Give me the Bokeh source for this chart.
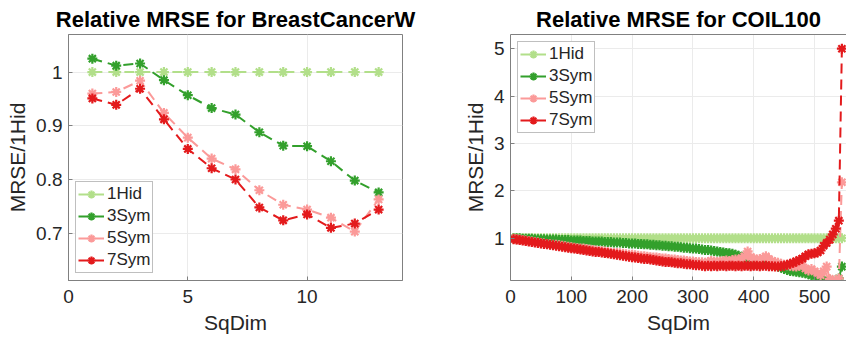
from bokeh.plotting import figure
from bokeh.layouts import row
from bokeh.models import FixedTicker, LinearAxis, Range1d
from bokeh.embed import file_html
from bokeh.resources import INLINE

# ---------------- data ----------------
series_names = ["1Hid", "3Sym", "5Sym", "7Sym"]
series_colors = ["#b2df8a", "#33a02c", "#fb9a99", "#e31a1c"]

# Breast Cancer Wisconsin
sqdim_bc = [1, 2, 3, 4, 5, 6, 7, 8, 9, 10, 11, 12, 13]
bc_1hid = [1.0, 1.0, 1.0, 1.0, 1.0, 1.0, 1.0, 1.0, 1.0, 1.0, 1.0, 1.0, 1.0]
bc_3sym = [1.025, 1.012, 1.016, 0.985, 0.957, 0.933, 0.921, 0.888, 0.863, 0.862, 0.834, 0.798, 0.776]
bc_5sym = [0.960, 0.963, 0.984, 0.924, 0.878, 0.839, 0.819, 0.780, 0.753, 0.744, 0.729, 0.703, 0.763]
bc_7sym = [0.951, 0.939, 0.969, 0.912, 0.857, 0.821, 0.800, 0.748, 0.724, 0.735, 0.710, 0.718, 0.744]

# COIL100 (SqDim 5 ... 545, step 5)
sqdim_coil = [
    5, 10, 15, 20, 25, 30, 35, 40, 45, 50,
    55, 60, 65, 70, 75, 80, 85, 90, 95, 100,
    105, 110, 115, 120, 125, 130, 135, 140, 145, 150,
    155, 160, 165, 170, 175, 180, 185, 190, 195, 200,
    205, 210, 215, 220, 225, 230, 235, 240, 245, 250,
    255, 260, 265, 270, 275, 280, 285, 290, 295, 300,
    305, 310, 315, 320, 325, 330, 335, 340, 345, 350,
    355, 360, 365, 370, 375, 380, 385, 390, 395, 400,
    405, 410, 415, 420, 425, 430, 435, 440, 445, 450,
    455, 460, 465, 470, 475, 480, 485, 490, 495, 500,
    505, 510, 515, 520, 525, 530, 535, 540, 545,
]
coil_1hid = [
    1.0, 1.0, 1.0, 1.0, 1.0, 1.0, 1.0, 1.0, 1.0, 1.0,
    1.0, 1.0, 1.0, 1.0, 1.0, 1.0, 1.0, 1.0, 1.0, 1.0,
    1.0, 1.0, 1.0, 1.0, 1.0, 1.0, 1.0, 1.0, 1.0, 1.0,
    1.0, 1.0, 1.0, 1.0, 1.0, 1.0, 1.0, 1.0, 1.0, 1.0,
    1.0, 1.0, 1.0, 1.0, 1.0, 1.0, 1.0, 1.0, 1.0, 1.0,
    1.0, 1.0, 1.0, 1.0, 1.0, 1.0, 1.0, 1.0, 1.0, 1.0,
    1.0, 1.0, 1.0, 1.0, 1.0, 1.0, 1.0, 1.0, 1.0, 1.0,
    1.0, 1.0, 1.0, 1.0, 1.0, 1.0, 1.0, 1.0, 1.0, 1.0,
    1.0, 1.0, 1.0, 1.0, 1.0, 1.0, 1.0, 1.0, 1.0, 1.0,
    1.0, 1.0, 1.0, 1.0, 1.0, 1.0, 1.0, 1.0, 1.0, 1.0,
    1.0, 1.0, 1.0, 1.0, 1.0, 1.0, 1.0, 1.0, 1.0,
]
coil_3sym = [
    1.00, 1.00, 1.00, 0.99, 0.99, 0.99, 0.99, 0.98, 0.98, 0.98,
    0.98, 0.97, 0.97, 0.97, 0.97, 0.96, 0.96, 0.96, 0.96, 0.95,
    0.95, 0.95, 0.95, 0.94, 0.94, 0.94, 0.93, 0.93, 0.93, 0.93,
    0.92, 0.92, 0.92, 0.91, 0.91, 0.91, 0.90, 0.90, 0.89, 0.89,
    0.89, 0.88, 0.88, 0.87, 0.87, 0.86, 0.86, 0.85, 0.85, 0.84,
    0.84, 0.83, 0.83, 0.82, 0.82, 0.81, 0.80, 0.80, 0.79, 0.78,
    0.78, 0.77, 0.76, 0.75, 0.75, 0.74, 0.73, 0.72, 0.71, 0.70,
    0.69, 0.68, 0.67, 0.65, 0.63, 0.61, 0.59, 0.57, 0.55, 0.53,
    0.52, 0.50, 0.49, 0.48, 0.46, 0.44, 0.42, 0.40, 0.38, 0.35,
    0.33, 0.31, 0.30, 0.29, 0.28, 0.27, 0.26, 0.24, 0.22, 0.20,
    0.18, 0.15, 0.12, 0.08, 0.11, 0.07, 0.10, 0.15, 0.40,
]
coil_5sym = [
    0.99, 0.98, 0.97, 0.96, 0.95, 0.94, 0.93, 0.92, 0.91, 0.90,
    0.89, 0.88, 0.87, 0.86, 0.86, 0.85, 0.84, 0.83, 0.82, 0.81,
    0.80, 0.79, 0.78, 0.78, 0.77, 0.76, 0.75, 0.74, 0.73, 0.73,
    0.72, 0.71, 0.70, 0.69, 0.69, 0.68, 0.67, 0.66, 0.65, 0.65,
    0.64, 0.63, 0.62, 0.62, 0.61, 0.60, 0.59, 0.59, 0.58, 0.57,
    0.57, 0.56, 0.55, 0.55, 0.54, 0.53, 0.53, 0.52, 0.51, 0.51,
    0.50, 0.49, 0.49, 0.48, 0.50, 0.52, 0.51, 0.50, 0.51, 0.52,
    0.53, 0.52, 0.54, 0.55, 0.54, 0.58, 0.62, 0.72, 0.60, 0.57,
    0.55, 0.56, 0.58, 0.62, 0.56, 0.52, 0.50, 0.48, 0.46, 0.44,
    0.43, 0.42, 0.41, 0.40, 0.42, 0.44, 0.36, 0.32, 0.35, 0.30,
    0.26, 0.22, 0.30, 0.40, 0.14, 0.10, 0.12, 0.15, 2.18,
]
coil_7sym = [
    0.98, 0.97, 0.96, 0.95, 0.94, 0.93, 0.92, 0.91, 0.90, 0.89,
    0.88, 0.87, 0.86, 0.85, 0.84, 0.83, 0.82, 0.81, 0.80, 0.79,
    0.78, 0.77, 0.76, 0.75, 0.74, 0.73, 0.72, 0.71, 0.71, 0.70,
    0.69, 0.68, 0.67, 0.66, 0.65, 0.64, 0.63, 0.62, 0.61, 0.60,
    0.59, 0.58, 0.57, 0.56, 0.56, 0.55, 0.54, 0.53, 0.52, 0.51,
    0.50, 0.50, 0.49, 0.48, 0.47, 0.47, 0.46, 0.45, 0.45, 0.44,
    0.43, 0.43, 0.42, 0.41, 0.42, 0.41, 0.42, 0.41, 0.42, 0.42,
    0.41, 0.42, 0.42, 0.41, 0.42, 0.41, 0.42, 0.42, 0.41, 0.42,
    0.42, 0.41, 0.42, 0.42, 0.41, 0.41, 0.40, 0.40, 0.41, 0.42,
    0.44, 0.46, 0.48, 0.51, 0.54, 0.57, 0.62, 0.66, 0.67, 0.68,
    0.70, 0.74, 0.84, 0.90, 0.97, 1.08, 1.20, 1.37, 5.00,
]

bc_ticks_x = [0, 5, 10]
bc_ticks_y = [0.7, 0.8, 0.9, 1.0]
coil_ticks_x = [0, 100, 200, 300, 400, 500]
coil_ticks_y = [1, 2, 3, 4, 5]

FONT = "Liberation Sans"
AX = "#808080"
TXT = "#262626"
GRID = "#ebebeb"


def style_axis(ax, ticks, overrides=None):
    ax.ticker = FixedTicker(ticks=ticks)
    ax.minor_tick_line_color = None
    ax.major_tick_in = 4
    ax.major_tick_out = 0
    ax.major_tick_line_color = AX
    ax.axis_line_color = AX
    ax.major_label_text_font = FONT
    ax.major_label_text_font_size = "19px"
    ax.major_label_text_color = TXT
    ax.axis_label_text_font = FONT
    ax.axis_label_text_font_size = "21px"
    ax.axis_label_text_font_style = "normal"
    ax.axis_label_text_color = TXT
    if overrides:
        ax.major_label_overrides = overrides


def make_fig(width, mleft, mright, title, xr, yr, xt, yt, yover, xs, ys_list, legend_loc, border_right):
    p = figure(width=width, height=338, output_backend="svg", toolbar_location=None,
               x_range=Range1d(*xr), y_range=Range1d(*yr),
               min_border_left=mleft, min_border_right=mright,
               min_border_top=34, min_border_bottom=58, title=title)
    p.title.text_font = FONT
    p.title.text_font_size = "22px"
    p.title.text_font_style = "bold"
    p.title.align = "center"
    p.title.text_color = "#000000"
    p.title.standoff = 5
    p.background_fill_color = "white"
    p.border_fill_color = "white"
    p.xgrid.ticker = FixedTicker(ticks=xt)
    p.ygrid.ticker = FixedTicker(ticks=yt)
    p.grid.grid_line_color = GRID
    xax = p.below[0]
    yax = p.left[0]
    style_axis(xax, xt)
    style_axis(yax, yt, yover)
    xax.axis_label = "SqDim"
    yax.axis_label = "MRSE/1Hid"
    xax.major_label_standoff = 9
    xax.axis_label_standoff = 5
    yax.major_label_standoff = 6
    yax.axis_label_standoff = 4

    for name, color, ys in zip(series_names, series_colors, ys_list):
        p.line(xs, ys, line_color=color, line_width=2, line_dash="10 6", legend_label=name)
        p.scatter(xs, ys, marker="asterisk", size=10, line_color=color, line_width=2.2,
                  legend_label=name)

    lg = p.legend[0]
    lg.location = legend_loc
    lg.margin = 7
    lg.label_text_font = FONT
    lg.label_text_font_size = "17px"
    lg.label_text_color = TXT
    lg.glyph_width = 26
    lg.glyph_height = 20
    lg.label_standoff = 3
    lg.label_height = 20
    lg.spacing = 2
    lg.padding = 2
    lg.border_line_color = AX
    lg.border_line_width = 1
    lg.background_fill_alpha = 1.0

    if border_right:
        p.outline_line_color = AX
    else:
        p.outline_line_color = None
        top = LinearAxis(ticker=FixedTicker(ticks=[]), major_label_text_font_size="0px",
                         axis_line_color=AX, major_tick_line_color=None,
                         minor_tick_line_color=None, major_label_standoff=0,
                         axis_label_standoff=0)
        p.add_layout(top, "above")
    return p


p1 = make_fig(440, 68, 38, "Relative MRSE for BreastCancerW", (0, 14), (0.612, 1.07),
              bc_ticks_x, bc_ticks_y, {1.0: "1", 1: "1"}, sqdim_bc,
              [bc_1hid, bc_3sym, bc_5sym, bc_7sym], "bottom_left", True)
p2 = make_fig(406, 70, 0, "Relative MRSE for COIL100", (0, 552.6), (0.107, 5.30),
              coil_ticks_x, coil_ticks_y, None, sqdim_coil,
              [coil_1hid, coil_3sym, coil_5sym, coil_7sym], "top_left", False)

layout = row(p1, p2)
open("out.html", "w").write(file_html(layout, INLINE))
